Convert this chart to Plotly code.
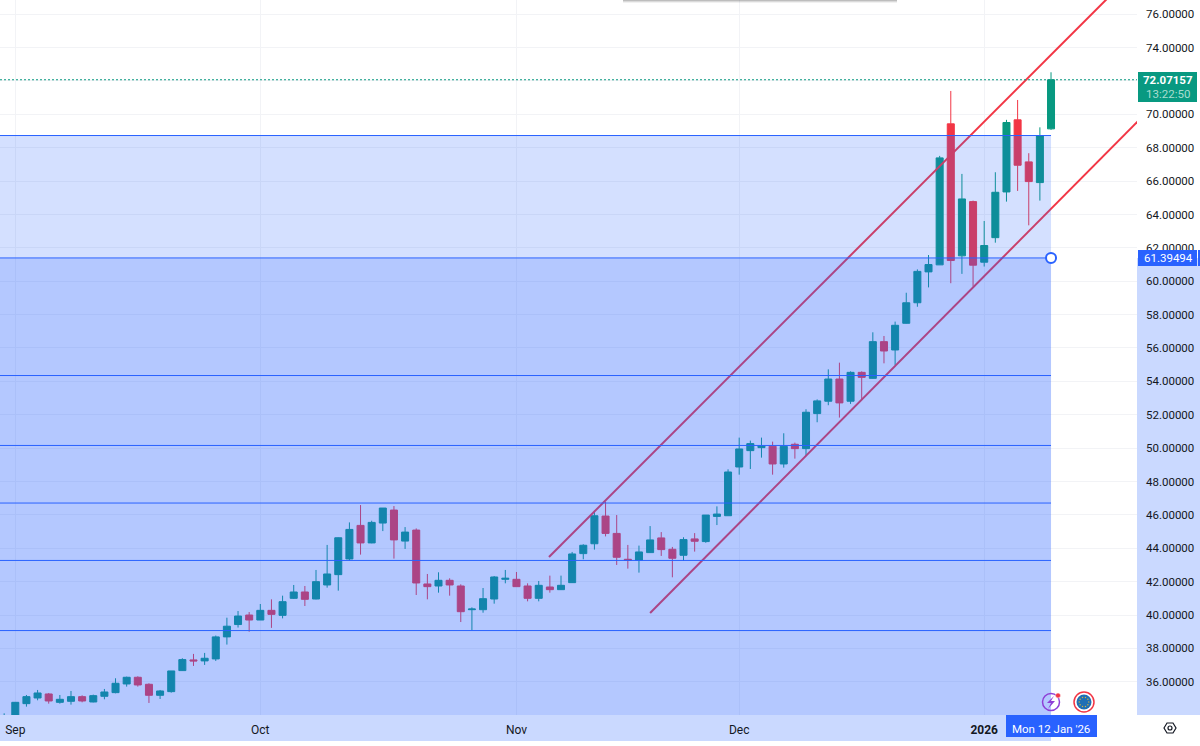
import math
import plotly.graph_objects as go

dates = [
    "2025-08-29",
    "2025-09-01", "2025-09-02", "2025-09-03", "2025-09-04", "2025-09-05",
    "2025-09-08", "2025-09-09", "2025-09-10", "2025-09-11", "2025-09-12",
    "2025-09-15", "2025-09-16", "2025-09-17", "2025-09-18", "2025-09-19",
    "2025-09-22", "2025-09-23", "2025-09-24", "2025-09-25", "2025-09-26",
    "2025-09-29", "2025-09-30",
    "2025-10-01", "2025-10-02", "2025-10-03",
    "2025-10-06", "2025-10-07", "2025-10-08", "2025-10-09", "2025-10-10",
    "2025-10-13", "2025-10-14", "2025-10-15", "2025-10-16", "2025-10-17",
    "2025-10-20", "2025-10-21", "2025-10-22", "2025-10-23", "2025-10-24",
    "2025-10-27", "2025-10-28", "2025-10-29", "2025-10-30", "2025-10-31",
    "2025-11-03", "2025-11-04", "2025-11-05", "2025-11-06", "2025-11-07",
    "2025-11-10", "2025-11-11", "2025-11-12", "2025-11-13", "2025-11-14",
    "2025-11-17", "2025-11-18", "2025-11-19", "2025-11-20", "2025-11-21",
    "2025-11-24", "2025-11-25", "2025-11-26", "2025-11-27", "2025-11-28",
    "2025-12-01", "2025-12-02", "2025-12-03", "2025-12-04", "2025-12-05",
    "2025-12-08", "2025-12-09", "2025-12-10", "2025-12-11", "2025-12-12",
    "2025-12-15", "2025-12-16", "2025-12-17", "2025-12-18", "2025-12-19",
    "2025-12-22", "2025-12-23", "2025-12-24", "2025-12-26",
    "2025-12-29", "2025-12-30", "2025-12-31",
    "2026-01-02", "2026-01-05", "2026-01-06", "2026-01-07", "2026-01-08",
    "2026-01-09", "2026-01-12",
]

opens = [
    33.60, 33.90, 34.69, 35.03, 35.27, 34.77, 34.83, 35.11, 34.79, 35.13, 35.35,
    35.87, 36.27, 35.85, 35.19, 35.41, 36.67, 37.31, 37.25, 37.37, 38.69, 39.43,
    40.00, 39.70, 40.28, 39.98, 41.00, 41.38, 40.96, 41.80, 42.42, 43.36, 45.37,
    44.32, 45.51, 46.29, 44.43, 45.09, 41.86, 41.74, 42.08, 41.74, 40.32, 40.32,
    40.96, 42.14, 42.14, 41.74, 41.00, 41.68, 41.52, 41.94, 43.68, 44.27, 45.93,
    44.89, 43.34, 43.28, 43.74, 44.62, 43.94, 43.58, 44.56, 44.40, 45.91, 45.95,
    48.87, 49.85, 50.03, 50.11, 49.05, 50.23, 49.97, 52.07, 52.81, 54.14, 52.81,
    54.54, 54.18, 56.38, 55.88, 57.48, 58.71, 60.56, 60.98, 69.43, 61.52, 64.77,
    61.14, 62.61, 65.35, 69.67, 67.15, 65.91, 69.13,
]
highs = [
    34.11, 34.79, 35.21, 35.51, 35.33, 35.21, 35.45, 35.19, 35.23, 35.57, 36.21,
    36.31, 36.33, 35.91, 35.51, 36.65, 37.41, 37.67, 37.73, 38.77, 39.84, 40.24,
    40.18, 40.66, 40.94, 41.16, 41.80, 41.74, 42.70, 44.20, 44.65, 45.55, 46.59,
    45.65, 46.41, 46.53, 45.27, 45.19, 42.46, 42.56, 42.20, 41.84, 40.46, 41.62,
    42.34, 42.70, 42.58, 41.90, 42.04, 42.36, 42.36, 43.78, 44.24, 46.25, 46.79,
    45.99, 44.20, 44.16, 45.33, 44.97, 44.08, 44.66, 44.91, 45.99, 46.51, 48.73,
    50.63, 50.45, 50.63, 50.39, 50.89, 50.33, 52.33, 52.92, 54.72, 55.12, 54.60,
    54.60, 56.94, 56.72, 57.58, 59.31, 60.71, 61.57, 67.51, 71.40, 66.43, 64.83,
    63.61, 66.53, 69.67, 70.86, 67.67, 69.22, 72.52,
]
lows = [
    33.40, 33.70, 34.51, 34.89, 34.69, 34.69, 34.63, 34.77, 34.77, 34.95, 35.31,
    35.71, 35.71, 34.73, 34.97, 35.35, 36.65, 36.95, 37.01, 37.25, 38.23, 39.25,
    39.00, 39.70, 39.23, 39.80, 40.96, 40.54, 40.94, 41.64, 41.46, 43.26, 43.62,
    44.30, 45.03, 43.38, 43.96, 41.20, 40.94, 41.34, 41.16, 39.58, 39.10, 40.14,
    40.68, 41.90, 41.70, 40.82, 40.82, 41.34, 41.50, 41.92, 43.34, 43.92, 44.71,
    43.00, 42.78, 42.54, 43.72, 43.54, 42.26, 43.24, 43.80, 44.33, 45.39, 45.95,
    48.41, 48.75, 49.43, 48.41, 48.83, 49.37, 49.53, 51.55, 52.57, 51.83, 52.65,
    52.92, 54.16, 55.08, 54.98, 57.46, 58.47, 59.63, 60.98, 59.88, 60.44, 59.68,
    60.88, 62.31, 64.77, 65.41, 63.35, 64.83, 69.07,
]
closes = [
    33.95, 34.77, 35.11, 35.33, 34.85, 34.95, 35.11, 34.85, 35.17, 35.39, 35.91,
    36.27, 35.81, 35.19, 35.45, 36.65, 37.33, 37.25, 37.41, 38.69, 39.33, 39.94,
    39.70, 40.28, 40.04, 40.80, 41.38, 40.94, 42.00, 42.46, 44.63, 45.13, 44.32,
    45.55, 46.41, 44.50, 44.97, 41.92, 41.70, 42.08, 41.80, 40.20, 40.36, 40.98,
    42.28, 42.20, 41.70, 41.00, 41.78, 41.52, 41.78, 43.66, 44.18, 45.95, 44.89,
    43.46, 43.28, 43.78, 44.50, 43.92, 43.40, 44.52, 44.42, 45.99, 46.05, 48.57,
    49.95, 50.27, 50.13, 49.05, 50.11, 49.97, 52.15, 52.83, 54.14, 52.71, 54.54,
    54.24, 56.38, 55.82, 57.36, 58.71, 60.59, 61.00, 67.39, 61.24, 64.93, 60.96,
    62.14, 65.33, 69.51, 66.95, 65.97, 68.73, 72.07,
]

tick_dates = ["2025-09-01", "2025-10-01", "2025-11-03", "2025-12-01", "2026-01-02"]
tick_names = ["Sep", "Oct", "Nov", "Dec", "<b>2026</b>"]
price_ticks = [36, 38, 40, 42, 44, 46, 48, 50, 52, 54, 56, 58, 60, 62, 64, 66, 68, 70, 72, 74, 76]

# horizontal fib levels, top to bottom
fib_levels = [68.73, 61.39494, 54.35, 50.16, 46.71, 43.27, 39.07]
last_price = 72.07157
anchor_price = 61.39494

# parallel channel, x in bar numbers
upper_x = [48.92, 101.08]
upper_y = [43.48, 78.29]
lower_x = [58.0, 102.89]
lower_y = [40.12, 70.32]

UP = "#089981"
DOWN = "#F23645"
BLUE = "#2962FF"
STRIP = "#CAD9FF"
TEXT = "#131722"

W, H = 1200, 746
PLOT_W, PLOT_H = 1137, 715
X_RANGE = [-0.374, 101.72]
Y_RANGE = [34.01, 76.85]
last_i = len(dates) - 1


# pixel helpers for the chrome that is not tied to the data
def px(x):
    return x / PLOT_W


def py(y):
    return 1 - y / PLOT_H


def box(x0, y0, x1, y1, color, **kw):
    return dict(type="rect", xref="paper", yref="paper", x0=px(x0), x1=px(x1), y0=py(y0), y1=py(y1),
                fillcolor=color, line_width=0, layer="above", **kw)


def ring(cx, cy, r, fill="rgba(0,0,0,0)", line=None, width=0):
    return dict(type="circle", xref="paper", yref="paper", x0=px(cx - r), x1=px(cx + r),
                y0=py(cy + r), y1=py(cy - r), fillcolor=fill,
                line=dict(color=line or "rgba(0,0,0,0)", width=width), layer="above")


def poly(points, fill="rgba(0,0,0,0)", line=None, width=0):
    d = "M " + " L ".join(f"{px(a):.5f},{py(b):.5f}" for a, b in points) + " Z"
    return dict(type="path", xref="paper", yref="paper", path=d, fillcolor=fill,
                line=dict(color=line or "rgba(0,0,0,0)", width=width), layer="above")


def label(x, y, text, color=TEXT, size=11.5):
    return dict(xref="paper", yref="paper", x=px(x), y=py(y), text=text, showarrow=False,
                xanchor="center", yanchor="middle", font=dict(family="Roboto", size=size, color=color))


fig = go.Figure(go.Candlestick(
    x=dates, open=opens, high=highs, low=lows, close=closes,
    increasing=dict(line=dict(color=UP, width=1), fillcolor=UP),
    decreasing=dict(line=dict(color=DOWN, width=1), fillcolor=DOWN),
    whiskerwidth=0, hoverinfo="skip", showlegend=False,
))

shapes = []

# axis strips under the tick labels
shapes.append(dict(type="rect", xref="paper", yref="paper", x0=1, x1=px(W), y0=0, y1=py(258),
                   fillcolor=STRIP, line_width=0, layer="below"))
shapes.append(dict(type="rect", xref="paper", yref="paper", x0=0, x1=px(1051), y0=py(PLOT_H), y1=py(741),
                   fillcolor=STRIP, line_width=0, layer="below"))

# channel goes under the fib fill
for xs, ys in ((upper_x, upper_y), (lower_x, lower_y)):
    shapes.append(dict(type="line", xref="x", yref="y", x0=xs[0], x1=xs[1], y0=ys[0], y1=ys[1],
                       line=dict(color=DOWN, width=2), layer="above"))

# last price line
shapes.append(dict(type="line", xref="paper", yref="y", x0=0, x1=1, y0=last_price, y1=last_price,
                   line=dict(color=UP, width=1, dash="2px,2px"), layer="above"))

# fib fill
shapes.append(dict(type="rect", xref="x", yref="y", x0=X_RANGE[0], x1=last_i, y0=anchor_price, y1=fib_levels[0],
                   fillcolor=BLUE, opacity=0.2, line_width=0, layer="above"))
shapes.append(dict(type="rect", xref="x", yref="y", x0=X_RANGE[0], x1=last_i, y0=Y_RANGE[0], y1=anchor_price,
                   fillcolor=BLUE, opacity=0.35, line_width=0, layer="above"))
for lvl in fib_levels:
    shapes.append(dict(type="line", xref="x", yref="y", x0=X_RANGE[0], x1=last_i, y0=lvl, y1=lvl,
                       line=dict(color=BLUE, width=1), layer="above"))

# fib anchor handle
shapes.append(dict(type="circle", xref="x", yref="y", xsizemode="pixel", ysizemode="pixel",
                   xanchor=last_i, yanchor=anchor_price, x0=-5, x1=5, y0=-5, y1=5,
                   fillcolor="white", line=dict(color=BLUE, width=2), layer="above"))

# panel shadow at the top edge
for h, a in ((1, 0.18), (2, 0.12), (3, 0.07)):
    shapes.append(box(623, 0, 897, h, f"rgba(60,60,60,{a})"))

# price labels
shapes.append(box(1138, 72, 1197, 102, UP))
shapes.append(box(1138, 250, 1197, 266, BLUE))
shapes.append(box(1198, 250, 1200, 266, BLUE))

# date label
shapes.append(box(1006, 715, 1097, 737, BLUE))

# lightning icon
shapes.append(ring(1051, 702, 8.5, line="#8E3FD6", width=1.5))
shapes.append(poly([(1054, 696), (1047, 703), (1051, 703), (1048, 709), (1055, 701), (1051, 701)], fill="#8E3FD6"))
shapes.append(ring(1058, 695.5, 2.5, fill="#F23645", line="white", width=0.5))

# flag icon
shapes.append(ring(1084, 702, 10, fill="white", line=DOWN, width=1.5))
shapes.append(ring(1084, 702, 7.5, fill="#1F6FB5"))
for k in range(10):
    ang = k * math.pi / 5
    shapes.append(ring(1084 + 4.8 * math.cos(ang), 702 + 4.8 * math.sin(ang), 0.7, fill="#D9B23A"))

# settings icon
shapes.append(poly([(1164, 728), (1167, 723), (1173, 723), (1176, 728), (1173, 733), (1167, 733)],
                   line=TEXT, width=1.2))
shapes.append(ring(1170, 728, 2, line=TEXT, width=1.2))

annotations = [
    label(1168.5, 80.5, "<b>72.07157</b>", "white"),
    label(1168.5, 94, "13:22:50", "#A8DDD0"),
    label(1168.5, 258, "61.39494", "white"),
    label(1051, 728.5, "Mon 12 Jan '26", "white"),
]

fig.update_layout(
    width=W, height=H,
    margin=dict(l=0, r=W - PLOT_W, t=0, b=H - PLOT_H, autoexpand=False),
    paper_bgcolor="white", plot_bgcolor="white",
    showlegend=False, dragmode=False, boxgap=0.1,
    shapes=shapes, annotations=annotations,
    xaxis=dict(
        type="category", categoryorder="array", categoryarray=dates,
        range=X_RANGE, rangeslider_visible=False, fixedrange=True,
        tickmode="array", tickvals=tick_dates, ticktext=tick_names,
        showgrid=True, gridcolor="#F2F3F6", gridwidth=1, zeroline=False,
        showline=False, ticks="", ticklabelstandoff=6,
        tickfont=dict(family="Roboto", size=12, color=TEXT),
    ),
    yaxis=dict(
        side="right", range=Y_RANGE, fixedrange=True,
        tickmode="array", tickvals=price_ticks, tickformat=".5f",
        showgrid=True, gridcolor="#F2F3F6", gridwidth=1, zeroline=False,
        showline=False, ticks="", ticklabelstandoff=8,
        tickfont=dict(family="Roboto", size=11.5, color=TEXT),
    ),
)

fig.write_html("out.html", config={"displayModeBar": False},
               post_script="document.body.style.margin='0';")
